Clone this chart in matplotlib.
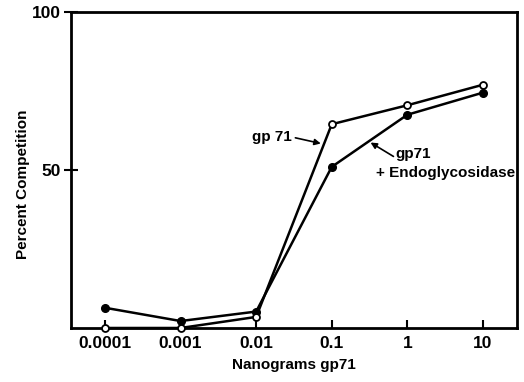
import numpy as np
import matplotlib.pyplot as plt

plt.rcParams['font.family'] = ['Liberation Sans', 'DejaVu Sans']

# datos
nanogramos = [0.0001, 0.001, 0.01, 0.1, 1, 10]
tick_labels = ['0.0001', '0.001', '0.01', '0.1', '1', '10']
gp71 = [0, 0, 3.5, 64.5, 70.5, 77]
gp71_endo = [6.4, 2.2, 5.2, 51, 67.5, 74.5]

fig = plt.figure(figsize=(5.24, 3.82), dpi=100)
ax = fig.add_axes([0.1355, 0.1414, 0.851, 0.827])

ax.plot(nanogramos, gp71_endo, color='black', lw=1.8, marker='o', ms=5.5,
        mfc='black', mec='black', zorder=3, clip_on=False)
ax.plot(nanogramos, gp71, color='black', lw=1.8, marker='o', ms=5,
        mfc='white', mec='black', mew=1.3, zorder=4, clip_on=False)

ax.set_xscale('log')
ax.set_xlim(10 ** -4.45, 10 ** 1.45)
ax.set_ylim(0, 100)
ax.set_xticks(nanogramos)
ax.set_xticklabels(tick_labels)
ax.minorticks_off()
ax.set_yticks([50, 100])
ax.set_yticklabels(['50', '100'])

for s in ax.spines.values():
    s.set_linewidth(2)
ax.tick_params(axis='x', direction='in', length=6, width=1.5, labelsize=12.5, pad=6)
ax.tick_params(axis='y', direction='inout', length=10, width=1.5, labelsize=12.5, pad=2)
for lab in ax.get_xticklabels() + ax.get_yticklabels():
    lab.set_fontweight('bold')

ax.set_xlabel('Nanograms gp71', fontsize=11, fontweight='bold', labelpad=5)
ax.set_ylabel('Percent Competition', fontsize=11, fontweight='bold')
ax.yaxis.set_label_coords(-0.092, 0.456)

# flechas y etiquetas
ax.annotate('', xy=(0.0716, 58.4), xytext=(0.033, 60.2),
            arrowprops=dict(arrowstyle='-|>', color='black', lw=1.2,
                            mutation_scale=9, shrinkA=0, shrinkB=0))
ax.text(0.030, 60.6, 'gp 71', fontsize=11, fontweight='bold', va='center', ha='right')

ax.annotate('', xy=(0.326, 58.7), xytext=(0.655, 54.3),
            arrowprops=dict(arrowstyle='-|>', color='black', lw=1.2,
                            mutation_scale=9, shrinkA=0, shrinkB=0))
ax.text(0.70, 55.2, 'gp71', fontsize=11, fontweight='bold', va='center', ha='left')
ax.text(0.39, 49.2, '+ Endoglycosidase', fontsize=11, fontweight='bold',
        va='center', ha='left')

fig.savefig('out.png', dpi=100)
